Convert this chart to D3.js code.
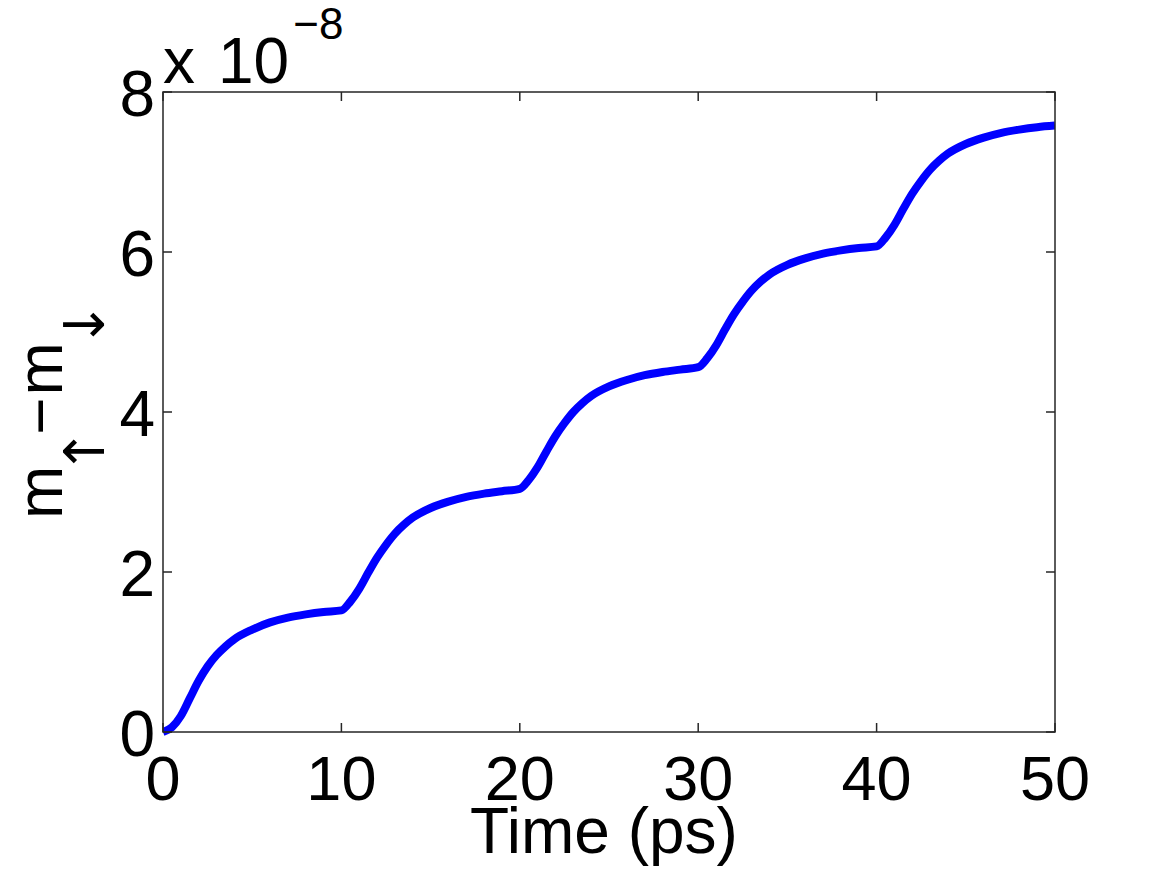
<!DOCTYPE html>
<html>
<head>
    <script src="https://d3js.org/d3.v7.min.js"></script>
    <style>
        body { margin: 0; background: #fff; }
        text { font-family: "Liberation Sans", Arial, Helvetica, sans-serif; fill: #000; }
    </style>
</head>
<body>
<script>
    // time in ps, values in units of 1e-8
    let times = [0, 0.5, 1, 1.5, 2, 2.5, 3, 3.5, 4, 5, 6, 7, 8, 9,
        10, 10.5, 11, 11.5, 12, 12.5, 13, 13.5, 14, 15, 16, 17, 18, 19,
        20, 20.5, 21, 21.5, 22, 22.5, 23, 23.5, 24, 25, 26, 27, 28, 29,
        30, 30.5, 31, 31.5, 32, 32.5, 33, 33.5, 34, 35, 36, 37, 38, 39,
        40, 40.5, 41, 41.5, 42, 42.5, 43, 43.5, 44, 45, 46, 47, 48, 49, 50];
    let values = [0, 0.06, 0.20, 0.42, 0.64, 0.82, 0.96, 1.07, 1.16, 1.28, 1.37, 1.43, 1.47, 1.50,
        1.52, 1.63, 1.79, 1.99, 2.18, 2.34, 2.48, 2.59, 2.68, 2.80, 2.88, 2.94, 2.98, 3.01,
        3.04, 3.15, 3.31, 3.51, 3.70, 3.86, 4.00, 4.11, 4.20, 4.32, 4.40, 4.46, 4.50, 4.53,
        4.56, 4.67, 4.83, 5.03, 5.22, 5.38, 5.52, 5.63, 5.72, 5.84, 5.92, 5.98, 6.02, 6.05,
        6.07, 6.18, 6.34, 6.54, 6.73, 6.89, 7.03, 7.14, 7.23, 7.35, 7.43, 7.49, 7.53, 7.56, 7.58];
    let xTicks = [0, 10, 20, 30, 40, 50];
    let yTicks = [0, 2, 4, 6, 8];

    let width = 1167;
    let height = 875;
    let mLeft = 163, mRight = 1055, mTop = 92, mBottom = 732;

    let svg = d3.select("body").append("svg")
        .attr("width", width)
        .attr("height", height);

    let x = d3.scaleLinear().domain([0, 50]).range([mLeft, mRight]);
    let y = d3.scaleLinear().domain([0, 8]).range([mBottom, mTop]);

    let data = times.map((t, i) => ({t: t, v: values[i]}));

    // curve
    svg.append("clipPath").attr("id", "clip")
        .append("rect")
        .attr("x", mLeft).attr("y", mTop - 10)
        .attr("width", mRight - mLeft).attr("height", mBottom - mTop + 20);

    let line = d3.line()
        .x(d => x(d.t))
        .y(d => y(d.v))
        .curve(d3.curveMonotoneX);

    svg.append("path")
        .datum(data)
        .attr("clip-path", "url(#clip)")
        .attr("d", line)
        .attr("fill", "none")
        .attr("stroke", "#0000ff")
        .attr("stroke-width", 8)
        .attr("stroke-linejoin", "round");

    // box and ticks (inside, all four sides)
    let axisColor = "#262626";
    svg.append("rect")
        .attr("x", mLeft).attr("y", mTop)
        .attr("width", mRight - mLeft).attr("height", mBottom - mTop)
        .attr("fill", "none")
        .attr("stroke", axisColor)
        .attr("stroke-width", 1.5);

    let tickLen = 9;
    xTicks.forEach(t => {
        svg.append("line").attr("x1", x(t)).attr("x2", x(t))
            .attr("y1", mBottom).attr("y2", mBottom - tickLen)
            .attr("stroke", axisColor).attr("stroke-width", 1.5);
        svg.append("line").attr("x1", x(t)).attr("x2", x(t))
            .attr("y1", mTop).attr("y2", mTop + tickLen)
            .attr("stroke", axisColor).attr("stroke-width", 1.5);
    });
    yTicks.forEach(t => {
        svg.append("line").attr("x1", mLeft).attr("x2", mLeft + tickLen)
            .attr("y1", y(t)).attr("y2", y(t))
            .attr("stroke", axisColor).attr("stroke-width", 1.5);
        svg.append("line").attr("x1", mRight).attr("x2", mRight - tickLen)
            .attr("y1", y(t)).attr("y2", y(t))
            .attr("stroke", axisColor).attr("stroke-width", 1.5);
    });

    // tick labels
    svg.selectAll(".xlabel")
        .data(xTicks)
        .join("text")
        .attr("class", "xlabel")
        .attr("x", d => x(d))
        .attr("y", 800)
        .attr("text-anchor", "middle")
        .attr("font-size", 63)
        .text(d => d);

    svg.selectAll(".ylabel")
        .data(yTicks)
        .join("text")
        .attr("class", "ylabel")
        .attr("x", 155)
        .attr("y", d => y(d) + 24)
        .attr("text-anchor", "end")
        .attr("font-size", 64)
        .text(d => d);

    // exponent
    let expo = svg.append("text")
        .attr("x", 163)
        .attr("y", 83)
        .attr("font-size", 64);
    expo.append("tspan").text("x");
    expo.append("tspan").attr("dx", 23).text("10");
    expo.append("tspan")
        .attr("font-size", 44)
        .attr("dx", 4)
        .attr("dy", -44)
        .text("\u22128");

    // axis titles
    svg.append("text")
        .attr("x", (mLeft + mRight) / 2 - 5)
        .attr("y", 853)
        .attr("text-anchor", "middle")
        .attr("font-size", 64)
        .text("Time (ps)");

    let ylab = svg.append("text")
        .attr("transform", "translate(62,519) rotate(-90)")
        .attr("font-size", 64);
    ylab.append("tspan").text("m");
    ylab.append("tspan").attr("font-family", "DejaVu Sans").attr("font-size", 56)
        .attr("dx", -9).attr("dy", 42).text("\u2191");
    ylab.append("tspan").attr("dx", -7).attr("dy", -42).text("\u2212");
    ylab.append("tspan").attr("dx", 2).text("m");
    ylab.append("tspan").attr("font-family", "DejaVu Sans").attr("font-size", 56)
        .attr("dx", -6).attr("dy", 42).text("\u2193");
</script>
</body>
</html>
